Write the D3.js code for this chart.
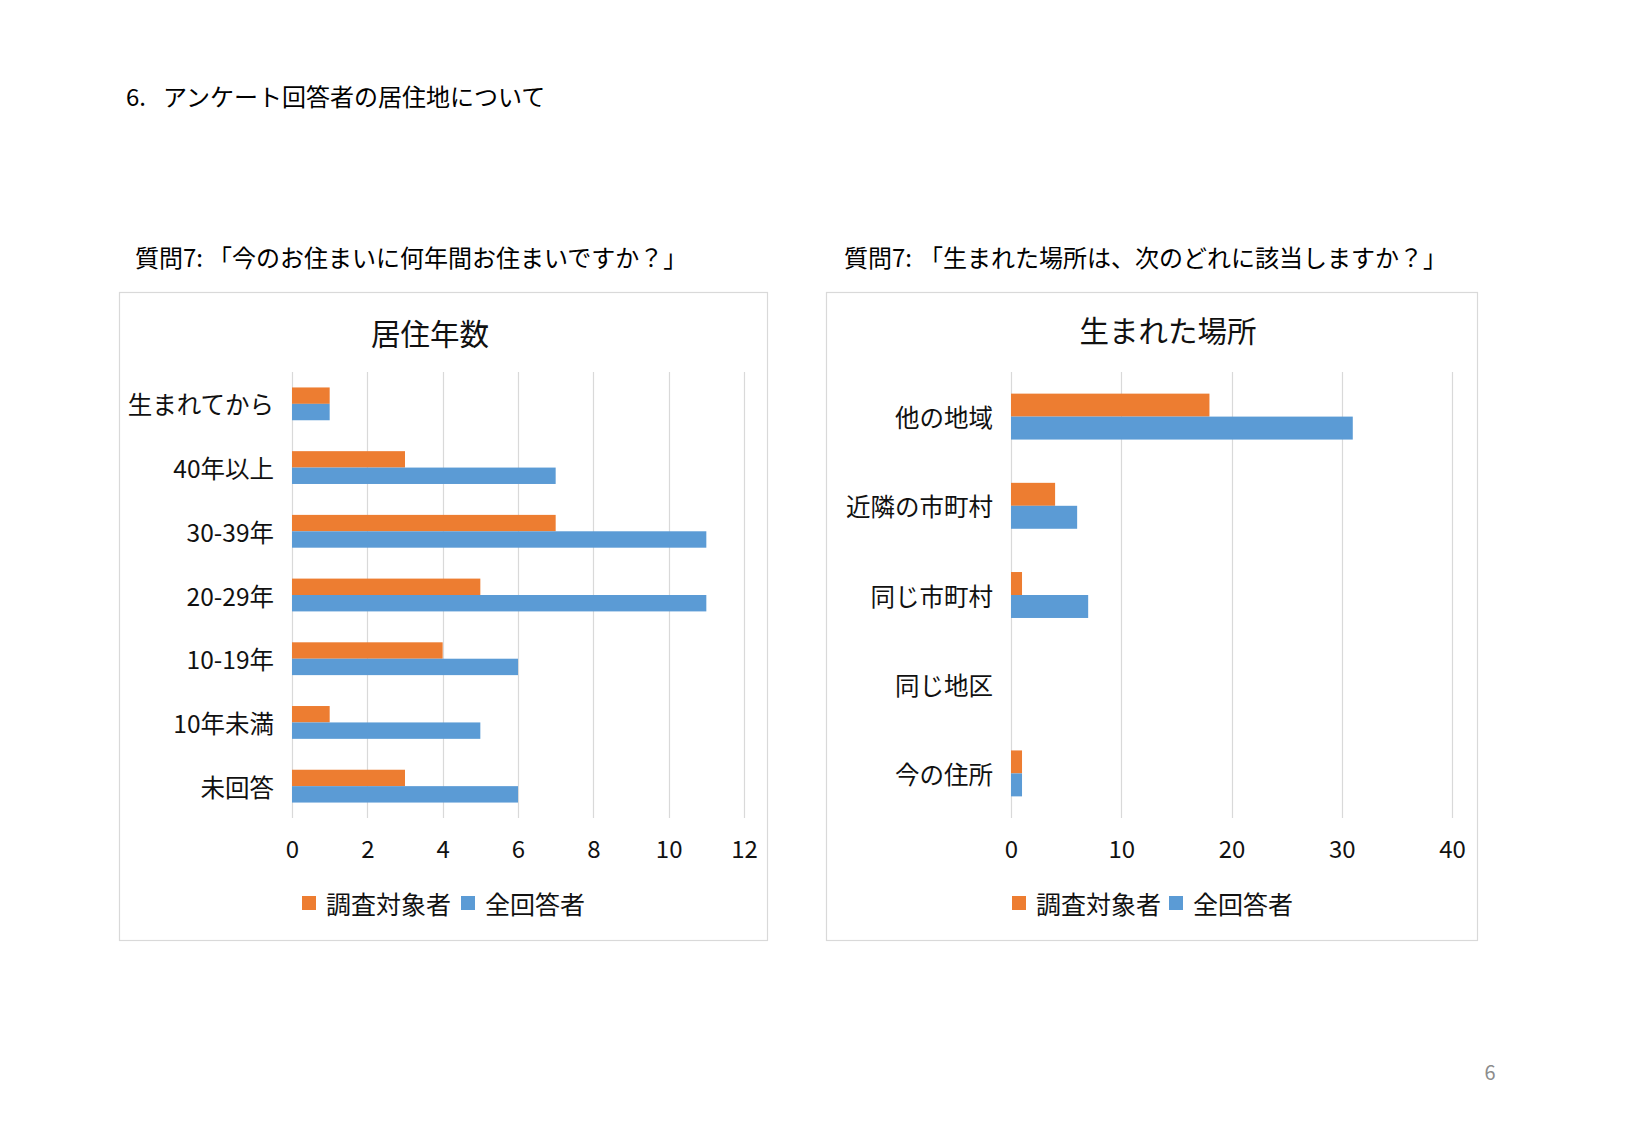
<!DOCTYPE html>
<html><head><meta charset="utf-8">
<script src="https://cdn.jsdelivr.net/npm/d3@7"></script>
<style>
html,body{margin:0;padding:0;background:#fff;}
svg{display:block;}
text{font-family:"Noto Sans CJK JP","Noto Sans",sans-serif;}
</style></head>
<body>
<svg id="c" width="1625" height="1125"></svg>
<script>
// ---- data ----
const seriesNames = ["調査対象者", "全回答者"];
const seriesColors = ["#ED7D31", "#5B9BD5"];

const leftCategories = ["生まれてから", "40年以上", "30-39年", "20-29年", "10-19年", "10年未満", "未回答"];
const leftSurveyed = [1, 3, 7, 5, 4, 1, 3];
const leftAll = [1, 7, 11, 11, 6, 5, 6];
const leftTicks = [0, 2, 4, 6, 8, 10, 12];

const rightCategories = ["他の地域", "近隣の市町村", "同じ市町村", "同じ地区", "今の住所"];
const rightSurveyed = [18, 4, 1, 0, 1];
const rightAll = [31, 6, 7, 0, 1];
const rightTicks = [0, 10, 20, 30, 40];

const svg = d3.select("#c");
const txt = "#111";

// page header
svg.append("text").attr("x", 126).attr("y", 95).attr("dominant-baseline", "central")
  .attr("font-size", 24).attr("fill", "#000").text("6.");
svg.append("text").attr("x", 163).attr("y", 95).attr("dominant-baseline", "central")
  .attr("font-size", 24).attr("fill", "#000").text("アンケート回答者の居住地について");

function subtitle(x, head, body, dx) {
  const t = svg.append("text").attr("x", x).attr("y", 256).attr("dominant-baseline", "central")
    .attr("font-size", 24).attr("fill", "#000");
  t.append("tspan").text(head);
  t.append("tspan").attr("dx", dx).text(body);
}
subtitle(135, "質問7:", "「今のお住まいに何年間お住まいですか？」", 5);
subtitle(844, "質問7:", "「生まれた場所は、次のどれに該当しますか？」", 7);

svg.append("text").attr("x", 1490).attr("y", 1071).attr("text-anchor", "middle").attr("dominant-baseline", "central")
  .attr("font-family", "'Open Sans',sans-serif").attr("font-size", 20).attr("fill", "#8c8c8c").text("6");

function drawChart(opt) {
  const g = svg.append("g");
  g.append("rect").attr("x", opt.box[0] + 0.5).attr("y", opt.box[1] + 0.5)
    .attr("width", opt.box[2]).attr("height", opt.box[3])
    .attr("fill", "#fff").attr("stroke", "#d9d9d9").attr("stroke-width", 1.2);
  g.append("text").attr("x", opt.titleX).attr("y", opt.titleY).attr("text-anchor", "middle")
    .attr("dominant-baseline", "central").attr("font-size", 29.5).attr("fill", txt).text(opt.title);

  const x = d3.scaleLinear().domain([0, opt.ticks[opt.ticks.length - 1]]).range(opt.xRange);
  const y = d3.scaleBand().domain(opt.categories).range(opt.yRange).paddingInner(0).paddingOuter(0);
  const step = y.bandwidth();
  const grp = step * 0.515;
  const ys = d3.scaleBand().domain(seriesNames).range([(step - grp) / 2, (step + grp) / 2]);

  // gridlines
  g.append("g").selectAll("line").data(opt.ticks).join("line")
    .attr("x1", d => Math.round(x(d)) + 0.5).attr("x2", d => Math.round(x(d)) + 0.5)
    .attr("y1", opt.yRange[0]).attr("y2", opt.yRange[1])
    .attr("stroke", "#d9d9d9").attr("stroke-width", 1.2);

  // x tick labels via axis
  const ax = g.append("g").attr("transform", `translate(0,${opt.tickY})`)
    .call(d3.axisBottom(x).tickValues(opt.ticks).tickSize(0).tickPadding(0).tickFormat(d3.format("d")));
  ax.select(".domain").remove();
  ax.selectAll("text").attr("font-size", 24).attr("fill", txt)
    .attr("font-family", "'Liberation Sans',Arial,sans-serif")
    .attr("dy", null).attr("y", 0).attr("dominant-baseline", "central");

  // category labels via axis
  const ay = g.append("g").attr("transform", `translate(${opt.xRange[0] - 18},0)`)
    .call(d3.axisLeft(y).tickSize(0).tickPadding(0));
  ay.select(".domain").remove();
  ay.selectAll("text").attr("font-size", 24.5).attr("fill", txt)
    .attr("font-family", "\"Noto Sans CJK JP\",sans-serif").attr("dy", null).attr("dominant-baseline", "central");

  // bars
  const rows = opt.categories.map((c, i) => ({ c, v: [opt.s1[i], opt.s2[i]] }));
  rows.forEach(r => {
    seriesNames.forEach((s, si) => {
      if (r.v[si] <= 0) return;
      g.append("rect")
        .attr("x", x(0)).attr("y", y(r.c) + ys(s))
        .attr("width", x(r.v[si]) - x(0)).attr("height", ys.bandwidth())
        .attr("fill", seriesColors[si]);
    });
  });

  // legend
  const lg = g.append("g");
  seriesNames.forEach((s, si) => {
    const lx = opt.legendX[si];
    lg.append("rect").attr("x", lx).attr("y", opt.legendY - 7).attr("width", 14).attr("height", 14)
      .attr("fill", seriesColors[si]);
    lg.append("text").attr("x", lx + 24).attr("y", opt.legendY).attr("dominant-baseline", "central")
      .attr("font-size", 25).attr("fill", txt).text(s);
  });
}

drawChart({
  box: [119, 292, 648, 648], title: "居住年数", titleX: 430, titleY: 332,
  categories: leftCategories, s1: leftSurveyed, s2: leftAll, ticks: leftTicks,
  xRange: [292, 744], yRange: [372, 818], tickY: 847,
  legendX: [302, 461], legendY: 903
});
drawChart({
  box: [826, 292, 651, 648], title: "生まれた場所", titleX: 1168, titleY: 329,
  categories: rightCategories, s1: rightSurveyed, s2: rightAll, ticks: rightTicks,
  xRange: [1011, 1452], yRange: [372, 818], tickY: 847,
  legendX: [1012, 1169], legendY: 903
});
</script>
</body></html>
